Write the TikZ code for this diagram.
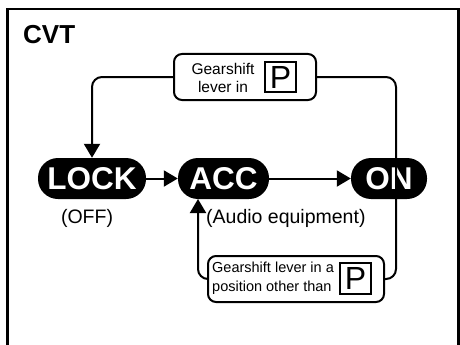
\documentclass[tikz,border=0pt]{standalone}
\usepackage{fontspec}
\setmainfont{Liberation Sans}
\usetikzlibrary{arrows.meta}
\begin{document}
\begin{tikzpicture}[x=1pt,y=-1pt,
  pill/.style={fill=black,text=white,font=\fontsize{31.5}{31.5}\selectfont\bfseries,
    minimum height=41pt,inner sep=0pt,rounded corners=20pt},
  condbox/.style={draw,line width=2pt,rounded corners=8pt,minimum height=46pt,inner sep=0pt},
  pbox/.style={draw,line width=2pt,minimum width=31pt,minimum height=30pt,inner sep=0pt,
    font=\fontsize{32}{32}\selectfont},
  conn/.style={line width=2pt,rounded corners=10pt},
  tip/.style={-{Triangle[width=16pt,length=14pt]}},
  lbl/.style={inner sep=0pt,font=\fontsize{19.5}{22}\selectfont}
]
\useasboundingbox (0,0) rectangle (460,345);
% frame
\draw[line width=2.5pt,line join=miter] (7.5,345) -- (7.5,9) -- (458.5,9) -- (458.5,345);
\node[anchor=west,inner sep=0pt,font=\fontsize{26}{26}\selectfont\bfseries] (title) at (23,35) {CVT};
% state pills
\node[pill,minimum width=108pt] (lock) at (92,178.5) {LOCK};
\node[pill,minimum width=91pt] (acc) at (223.5,178.5) {ACC};
\node[pill,minimum width=76pt] (on) at (389,178.5) {ON};
\node[lbl] (off) at (87,218) {(OFF)};
\node[lbl,anchor=west] (audio) at (206,218) {(Audio equipment)};
% condition boxes
\node[condbox,minimum width=142pt] (topbox) at (245,77) {};
\node[align=center,inner sep=0pt,font=\fontsize{15.5}{18}\selectfont] (toptext) at (223,78) {Gearshift\\lever in};
\node[pbox] (topp) at (280.5,77) {P};
\node[condbox,minimum width=176pt] (botbox) at (296,279) {};
\node[align=left,anchor=west,inner sep=0pt,font=\fontsize{14.5}{19}\selectfont] (bottext) at (212,278) {Gearshift lever in a\\position other than};
\node[pbox,minimum height=31pt] (botp) at (355.5,278.5) {P};
% helper coordinates
\coordinate (xr) at (396,178.5);
\coordinate (accin) at (198,199);
% connectors
\draw[conn,tip] (topbox.west) -| (lock.north);
\draw[conn] (topbox.east) -| (xr) |- (botbox.east);
\draw[conn,tip] (botbox.west) -| (accin);
\draw[line width=2pt,tip] (lock.east) -- (acc.west);
\draw[line width=2pt,tip] (acc.east) -- (on.west);
\end{tikzpicture}
\end{document}
